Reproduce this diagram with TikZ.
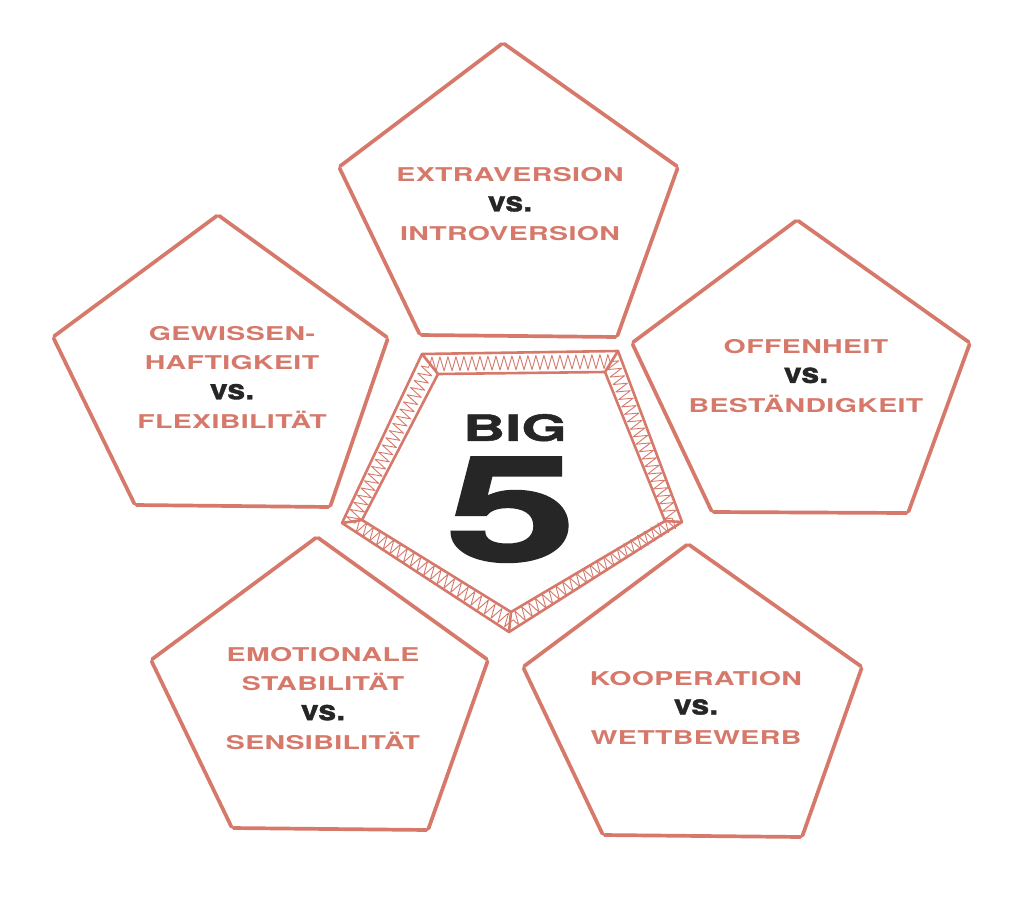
\documentclass[tikz,border=0pt]{standalone}
\usepackage{fontspec}
\usetikzlibrary{decorations.pathmorphing,calc}
\newfontfamily\labfont[FakeStretch=1.5,LetterSpace=2]{TeX Gyre Heros}
\newfontfamily\vsfont[FakeStretch=1.15,FakeBold=1.2]{TeX Gyre Heros}
\newfontfamily\bigfont[FakeStretch=1.62,FakeBold=1.5]{TeX Gyre Heros}
\definecolor{salmon}{RGB}{214,121,107}
\definecolor{ink}{RGB}{38,38,38}
\tikzset{
  pent/.style={draw=salmon, line width=3.7pt, line cap=round, shorten >=1.5pt, shorten <=1.5pt},
  frameline/.style={draw=salmon, line width=2.6pt, line join=round, line cap=round},
  hatch/.style={draw=salmon, line width=0.9pt, line join=round, decorate, decoration={zigzag, amplitude=7pt, segment length=8pt}},
  lab/.style={align=center, text=salmon, inner sep=0pt, font=\labfont\bfseries\fontsize{19}{29.5}\selectfont},
  bigtxt/.style={text=ink, inner sep=0pt, anchor=south, text depth=0pt},
}
\newcommand{\vsx}{{\color{ink}\vsfont\bfseries\fontsize{28}{29.5}\selectfont vs.}}
\newcommand{\drawpent}[5]{%
  \draw[pent] #1 -- #2; \draw[pent] #2 -- #3; \draw[pent] #3 -- #4;
  \draw[pent] #4 -- #5; \draw[pent] #5 -- #1;}
\begin{document}
\begin{tikzpicture}[x=1pt,y=-1pt]
\useasboundingbox (0,0) rectangle (1024,899);
\fill[white] (0,0) rectangle (1024,899);

% outer pentagons
\drawpent{(503,43)}{(678,167)}{(617,337)}{(420,335)}{(339,167)}
\drawpent{(797,220)}{(970,343)}{(908,513)}{(712,512)}{(632,343)}
\drawpent{(218,215)}{(388,338)}{(330,507)}{(135,505)}{(53,337)}
\drawpent{(317,537)}{(488,660)}{(428,830)}{(232,828)}{(151,660)}
\drawpent{(688,544)}{(862,667)}{(802,837)}{(603,835)}{(523,667)}

% central hatched frame
\coordinate (A) at (422,354); \coordinate (B) at (618,351);
\coordinate (C) at (682,522); \coordinate (D) at (509,632);
\coordinate (E) at (342,523);
\coordinate (a) at (438,374); \coordinate (b) at (605,372);
\coordinate (c) at (665,521); \coordinate (d) at (511,612);
\coordinate (e) at (362,520);
\foreach \p/\q/\r/\s in {A/B/a/b, B/C/b/c, C/D/c/d, D/E/d/e, E/A/e/a}{
  \draw[hatch] ($(\p)!0.5!(\r)$) -- ($(\q)!0.5!(\s)$);
}
\draw[frameline] (A) -- (B) -- (C) -- (D) -- (E) -- cycle;
\draw[frameline] (a) -- (b) -- (c) -- (d) -- (e) -- cycle;
\foreach \p/\r in {A/a, B/b, C/c, D/d, E/e}{ \draw[frameline] (\p) -- (\r); }

% central title
\node[bigtxt, text height=26pt, font=\bigfont\bfseries\fontsize{36}{36}\selectfont] (big) at (515,441) {BIG};
\node[bigtxt, text height=102pt, font=\bigfont\bfseries\fontsize{146}{146}\selectfont] (five) at (511,561) {5};

% labels
\node[lab] (extra) at (510,204.5) {EXTRAVERSION\\\vsx\\INTROVERSION};
\node[lab] (offen) at (806,376) {OFFENHEIT\\\vsx\\BESTÄNDIGKEIT};
\node[lab] (gewis) at (232,377.5) {GEWISSEN-\\HAFTIGKEIT\\\vsx\\FLEXIBILITÄT};
\node[lab] (emot) at (323,698.5) {EMOTIONALE\\STABILITÄT\\\vsx\\SENSIBILITÄT};
\node[lab] (koop) at (696,707.5) {KOOPERATION\\\vsx\\WETTBEWERB};
\end{tikzpicture}
\end{document}
